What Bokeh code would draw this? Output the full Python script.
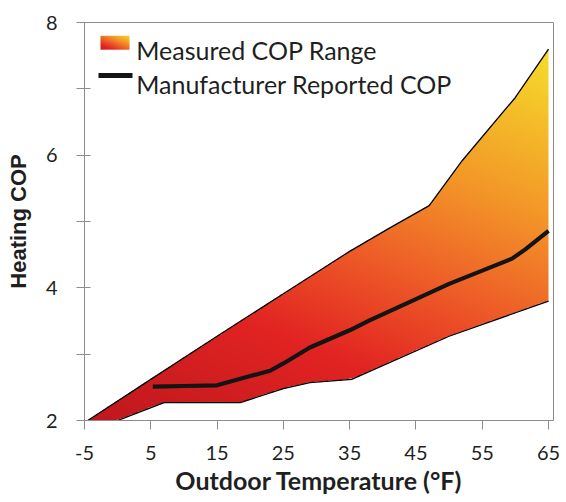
import numpy as np
from bokeh.plotting import figure
from bokeh.models import Range1d, FixedTicker, Label
from bokeh.embed import file_html
from bokeh.resources import INLINE

# ---- data ----
upper_x = [-4.5, 5, 15, 25, 35, 41, 47, 52, 60, 65]
upper_y = [2.0, 2.62, 3.27, 3.91, 4.55, 4.90, 5.24, 5.92, 6.87, 7.60]

lower_x = [0, 7, 18.5, 25, 29, 35.3, 50, 65]
lower_y = [2.0, 2.27, 2.27, 2.48, 2.57, 2.62, 3.27, 3.80]

manuf_x = [5.3, 10, 15, 20, 23, 25, 29, 35, 38, 45, 50, 55, 59.5, 61.5, 65]
manuf_y = [2.51, 2.52, 2.53, 2.67, 2.75, 2.86, 3.10, 3.36, 3.51, 3.83, 4.06, 4.26, 4.44, 4.58, 4.86]

x_ticks = [-5, 5, 15, 25, 35, 45, 55, 65]
y_ticks = [2, 4, 6, 8]
y_minor = [3, 5, 7]

legend_labels = ["Measured COP Range", "Manufacturer Reported COP"]
x_title = "Outdoor Temperature (°F)"
y_title = "Heating COP"

# ---- styling ----
X0, X1, Y0, Y1 = -5, 65.75, 2, 8
stops = [0.0, 0.3, 0.5, 0.7, 1.0]
R = [190, 226, 238, 243, 246]
G = [24, 36, 92, 150, 222]
B = [30, 34, 40, 40, 42]
AX = "#8c8c8c"
TXT = "#1f1f1f"


def colorize(t, alpha):
    ny, nx = t.shape
    img = np.zeros((ny, nx), dtype=np.uint32)
    v = img.view(dtype=np.uint8).reshape((ny, nx, 4))
    v[..., 0] = np.interp(t, stops, R).astype(np.uint8)
    v[..., 1] = np.interp(t, stops, G).astype(np.uint8)
    v[..., 2] = np.interp(t, stops, B).astype(np.uint8)
    v[..., 3] = alpha
    return img


p = figure(width=566, height=502, output_backend="svg", toolbar_location=None,
           x_range=Range1d(X0, X1), y_range=Range1d(Y0, Y1),
           min_border_left=84, min_border_right=13, min_border_top=22, min_border_bottom=82)
p.background_fill_color = "white"
p.border_fill_color = "white"
p.outline_line_color = AX
p.xgrid.visible = False
p.ygrid.visible = False

# gradient fill of the measured range (masked between lower and upper curves)
nx, ny = 900, 700
xs = np.linspace(X0, X1, nx)
ys = np.linspace(Y0, Y1, ny)
XX, YY = np.meshgrid(xs, ys)
up = np.interp(xs, upper_x, upper_y, left=np.nan, right=np.nan)
lo = np.interp(xs, lower_x, lower_y, left=lower_y[0], right=np.nan)
with np.errstate(invalid="ignore"):
    mask = (YY >= lo[None, :]) & (YY <= up[None, :])
t = np.clip(0.35 * (XX - X0) / (max(upper_x) - X0) + 0.65 * (YY - Y0) / (max(upper_y) - Y0), 0, 1)
img = colorize(t, np.where(mask, 255, 0).astype(np.uint8))
p.image_rgba(image=[img], x=X0, y=Y0, dw=X1 - X0, dh=Y1 - Y0)

p.line(upper_x, upper_y, line_color="black", line_width=1.3)
p.line(lower_x, lower_y, line_color="black", line_width=1.3)
p.line(manuf_x, manuf_y, line_color="#141414", line_width=4.2, line_join="round")

# ---- legend (manual, top-left inside the frame) ----
sw_nx, sw_ny = 60, 30
u, w = np.meshgrid(np.linspace(0, 1, sw_nx), np.linspace(0, 1, sw_ny))
sw = colorize(np.clip(0.15 + 0.85 * (0.45 * u + 0.55 * w), 0, 1), np.uint8(255))
p.image_rgba(image=[sw], x=-2.59, y=7.59, dw=4.38, dh=0.21)
p.line([-2.89, 2.24], [7.20, 7.20], line_color="#141414", line_width=5)
p.add_layout(Label(x=2.8, y=7.59, text=legend_labels[0], text_font="Lato",
                   text_font_size="25px", text_color=TXT, text_baseline="alphabetic"))
p.add_layout(Label(x=2.8, y=7.08, text=legend_labels[1], text_font="Lato",
                   text_font_size="25px", text_color=TXT, text_baseline="alphabetic"))

# ---- axes ----
xa = p.xaxis[0]
xa.ticker = FixedTicker(ticks=x_ticks)
xa.major_label_overrides = {v: str(v) for v in x_ticks}
xa.axis_line_color = AX
xa.major_tick_line_color = AX
xa.major_tick_in = 0
xa.major_tick_out = 9
xa.minor_tick_line_color = None
xa.major_label_text_font = "Lato"
xa.major_label_text_font_size = "20px"
xa.major_label_text_color = TXT
xa.major_label_standoff = 16
xa.axis_label = x_title
xa.axis_label_text_font = "Lato"
xa.axis_label_text_font_style = "bold"
xa.axis_label_text_font_size = "25px"
xa.axis_label_text_color = TXT
xa.axis_label_standoff = 2

ya = p.yaxis[0]
ya.ticker = FixedTicker(ticks=y_ticks, minor_ticks=y_minor)
ya.major_label_overrides = {v: str(v) for v in y_ticks}
ya.axis_line_color = AX
ya.major_tick_line_color = AX
ya.minor_tick_line_color = AX
ya.major_tick_in = 6
ya.major_tick_out = 8
ya.minor_tick_in = 6
ya.minor_tick_out = 8
ya.major_label_text_font = "Lato"
ya.major_label_text_font_size = "20px"
ya.major_label_text_color = TXT
ya.major_label_standoff = 19
ya.axis_label = y_title
ya.axis_label_text_font = "Liberation Sans"
ya.axis_label_text_font_style = "bold"
ya.axis_label_text_font_size = "22px"
ya.axis_label_text_color = TXT
ya.axis_label_standoff = 12

open("out.html", "w").write(file_html(p, INLINE))
